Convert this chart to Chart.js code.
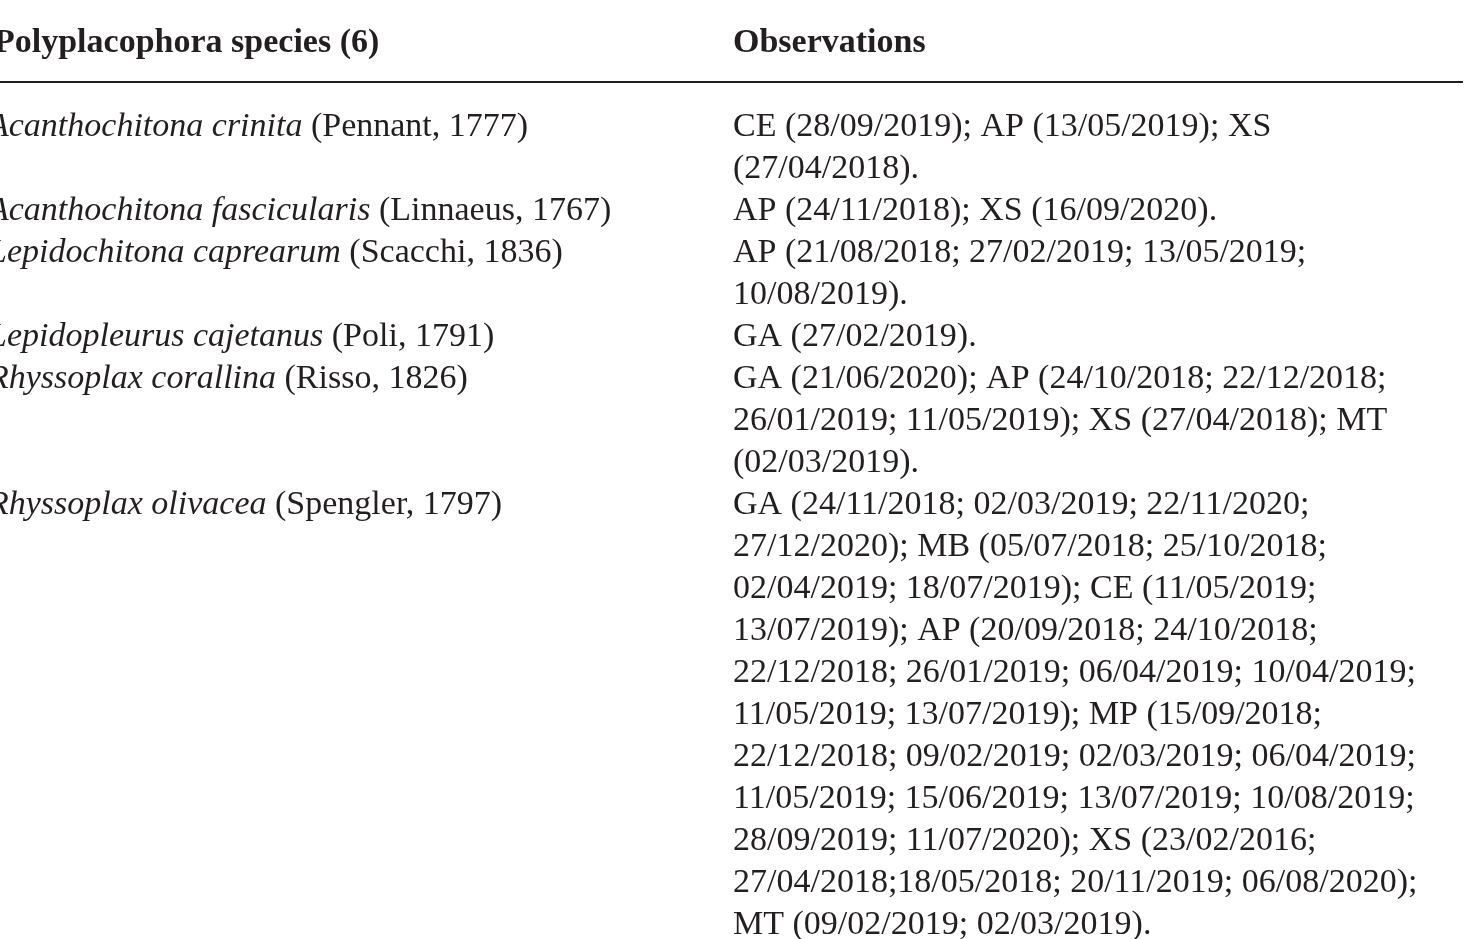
<!DOCTYPE html>
<html>
<head>
<meta charset="utf-8">
<script src="https://cdn.jsdelivr.net/npm/chart.js@4"></script>
<style>
  html, body { margin: 0; padding: 0; background: #fff; }
  #wrap { width: 1474px; height: 939px; }
</style>
</head>
<body>
<div id="wrap"><canvas id="tbl"></canvas></div>
<script>
// --- Table data ---
const headers = ['Polyplacophora species (6)', 'Observations'];
const speciesNames = ['Acanthochitona crinita', 'Acanthochitona fascicularis', 'Lepidochitona caprearum',
  'Lepidopleurus cajetanus', 'Rhyssoplax corallina', 'Rhyssoplax olivacea'];
const speciesAuthors = ['(Pennant, 1777)', '(Linnaeus, 1767)', '(Scacchi, 1836)',
  '(Poli, 1791)', '(Risso, 1826)', '(Spengler, 1797)'];
const speciesRows = [0, 2, 3, 5, 6, 9];
const observationLines = [
  'CE (28/09/2019); AP (13/05/2019); XS',
  '(27/04/2018).',
  'AP (24/11/2018); XS (16/09/2020).',
  'AP (21/08/2018; 27/02/2019; 13/05/2019;',
  '10/08/2019).',
  'GA (27/02/2019).',
  'GA (21/06/2020); AP (24/10/2018; 22/12/2018;',
  '26/01/2019; 11/05/2019); XS (27/04/2018); MT',
  '(02/03/2019).',
  'GA (24/11/2018; 02/03/2019; 22/11/2020;',
  '27/12/2020); MB (05/07/2018; 25/10/2018;',
  '02/04/2019; 18/07/2019); CE (11/05/2019;',
  '13/07/2019); AP (20/09/2018; 24/10/2018;',
  '22/12/2018; 26/01/2019; 06/04/2019; 10/04/2019;',
  '11/05/2019; 13/07/2019); MP (15/09/2018;',
  '22/12/2018; 09/02/2019; 02/03/2019; 06/04/2019;',
  '11/05/2019; 15/06/2019; 13/07/2019; 10/08/2019;',
  '28/09/2019; 11/07/2020); XS (23/02/2016;',
  '27/04/2018;18/05/2018; 20/11/2019; 06/08/2020);',
  'MT (09/02/2019; 02/03/2019).'
];

const FONT = '"Liberation Serif", "Times New Roman", serif';
const SIZE = 34;

// Draws the table text onto the chart area using the chart's pixel scales
const tablePlugin = {
  id: 'tablePlugin',
  afterDraw(chart) {
    const c = chart.ctx;
    const x = chart.scales.x, y = chart.scales.y;
    const px = v => x.getPixelForValue(v);
    const py = v => y.getPixelForValue(v);
    c.save();
    c.fillStyle = '#231f20';
    c.textBaseline = 'middle';

    // header
    c.font = `bold ${SIZE}px ${FONT}`;
    c.fillText(headers[0], px(-6), py(43));
    c.fillText(headers[1], px(733), py(43));

    // rule under header
    c.strokeStyle = '#231f20';
    c.lineWidth = 2;
    c.beginPath();
    c.moveTo(px(0), py(82));
    c.lineTo(px(1463), py(82));
    c.stroke();

    const rowY = r => py(127 + r * 42);

    // species column
    speciesNames.forEach((name, i) => {
      const yy = rowY(speciesRows[i]);
      c.font = `italic ${SIZE}px ${FONT}`;
      const startX = px(-12);
      c.fillText(name, startX, yy);
      const w = c.measureText(name + ' ').width;
      c.font = `${SIZE}px ${FONT}`;
      c.fillText(speciesAuthors[i], startX + w, yy);
    });

    // observations column
    c.font = `${SIZE}px ${FONT}`;
    observationLines.forEach((line, r) => c.fillText(line, px(733), rowY(r)));
    c.restore();
  }
};

new Chart(document.getElementById('tbl'), {
  type: 'scatter',
  data: { datasets: [{ data: [], pointRadius: 0 }] },
  options: {
    responsive: true,
    maintainAspectRatio: false,
    animation: false,
    layout: { padding: 0 },
    plugins: { legend: { display: false }, tooltip: { enabled: false } },
    scales: {
      x: { type: 'linear', min: 0, max: 1474, display: false },
      y: { type: 'linear', min: 0, max: 939, reverse: true, display: false }
    }
  },
  plugins: [tablePlugin]
});
</script>
</body>
</html>
